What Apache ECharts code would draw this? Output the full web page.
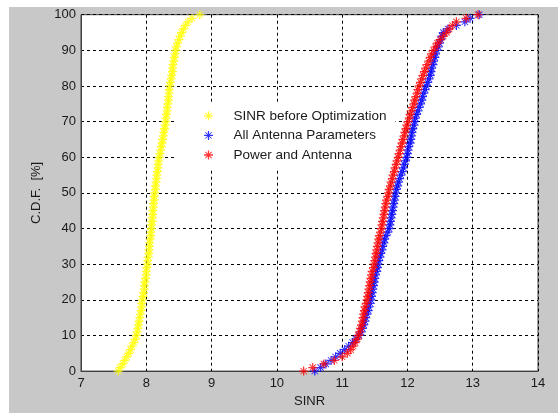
<!DOCTYPE html>
<html>
<head>
<meta charset="utf-8">
<script src="https://cdn.jsdelivr.net/npm/echarts@6/dist/echarts.min.js"></script>
<style>
  html, body { margin: 0; padding: 0; background: #ffffff; }
  #frame { position: absolute; left: 9px; top: 7px; width: 549px; height: 406px; background: #c8c8c8; }
  #chart { width: 549px; height: 406px; }
</style>
</head>
<body>
<div id="frame"><div id="chart"></div></div>
<script>
// CDF levels (%) shared by all three curves
const cdfPercent = [
  0, 1, 2, 3, 4, 5, 6, 7, 8, 9, 10, 11, 12, 13, 14, 15, 16, 17, 18, 19,
  20, 21, 22, 23, 24, 25, 26, 27, 28, 29, 30, 31, 32, 33, 34, 35, 36, 37, 38, 39,
  40, 41, 42, 43, 44, 45, 46, 47, 48, 49, 50, 51, 52, 53, 54, 55, 56, 57, 58, 59,
  60, 61, 62, 63, 64, 65, 66, 67, 68, 69, 70, 71, 72, 73, 74, 75, 76, 77, 78, 79,
  80, 81, 82, 83, 84, 85, 86, 87, 88, 89, 90, 91, 92, 93, 94, 95, 96, 97, 98, 99, 100
];

// SINR before optimization (sorted samples)
const sinrBefore = [
  7.57, 7.60, 7.64, 7.67, 7.70, 7.73, 7.76, 7.78, 7.81, 7.83,
  7.85, 7.86, 7.87, 7.88, 7.89, 7.90, 7.91, 7.92, 7.93, 7.93,
  7.94, 7.95, 7.96, 7.97, 7.97, 7.98, 7.99, 8.00, 8.00, 8.01,
  8.02, 8.02, 8.03, 8.04, 8.04, 8.05, 8.05, 8.06, 8.07, 8.07,
  8.08, 8.08, 8.09, 8.09, 8.10, 8.10, 8.11, 8.11, 8.12, 8.12,
  8.13, 8.14, 8.14, 8.15, 8.16, 8.16, 8.17, 8.18, 8.18, 8.19,
  8.20, 8.21, 8.22, 8.23, 8.24, 8.25, 8.26, 8.27, 8.28, 8.29,
  8.30, 8.30, 8.31, 8.32, 8.32, 8.33, 8.34, 8.34, 8.35, 8.35,
  8.36, 8.37, 8.38, 8.39, 8.40, 8.40, 8.41, 8.42, 8.43, 8.44,
  8.45, 8.46, 8.48, 8.50, 8.52, 8.54, 8.57, 8.60, 8.64, 8.70,
  8.82
];

// SINR after optimizing all antenna parameters
const sinrAllAntenna = [
  10.58, 10.67, 10.75, 10.83, 10.90, 10.97, 11.04, 11.10, 11.16, 11.21,
  11.26, 11.29, 11.31, 11.33, 11.35, 11.36, 11.38, 11.40, 11.41, 11.43,
  11.44, 11.45, 11.46, 11.47, 11.48, 11.49, 11.50, 11.51, 11.53, 11.54,
  11.55, 11.56, 11.58, 11.59, 11.61, 11.62, 11.64, 11.65, 11.67, 11.70,
  11.72, 11.73, 11.74, 11.75, 11.76, 11.77, 11.78, 11.79, 11.80, 11.81,
  11.82, 11.83, 11.85, 11.86, 11.88, 11.90, 11.92, 11.94, 11.95, 11.97,
  11.99, 12.00, 12.01, 12.02, 12.04, 12.05, 12.06, 12.07, 12.08, 12.10,
  12.11, 12.12, 12.14, 12.16, 12.18, 12.20, 12.22, 12.23, 12.25, 12.27,
  12.29, 12.31, 12.33, 12.35, 12.36, 12.37, 12.39, 12.40, 12.42, 12.43,
  12.45, 12.47, 12.49, 12.51, 12.53, 12.55, 12.62, 12.75, 12.88, 12.96,
  13.10
];

// SINR after optimizing power and antenna
const sinrPowerAntenna = [
  10.41, 10.55, 10.72, 10.88, 11.00, 11.08, 11.13, 11.17, 11.20, 11.23,
  11.25, 11.27, 11.28, 11.30, 11.31, 11.32, 11.33, 11.34, 11.35, 11.37,
  11.38, 11.39, 11.40, 11.41, 11.42, 11.43, 11.44, 11.45, 11.46, 11.48,
  11.49, 11.50, 11.51, 11.52, 11.53, 11.54, 11.55, 11.56, 11.57, 11.59,
  11.60, 11.61, 11.62, 11.63, 11.64, 11.65, 11.66, 11.67, 11.68, 11.70,
  11.71, 11.72, 11.74, 11.75, 11.77, 11.78, 11.80, 11.81, 11.83, 11.84,
  11.86, 11.87, 11.89, 11.90, 11.92, 11.93, 11.95, 11.96, 11.98, 11.99,
  12.01, 12.03, 12.04, 12.06, 12.08, 12.10, 12.11, 12.13, 12.15, 12.16,
  12.18, 12.20, 12.22, 12.24, 12.26, 12.28, 12.30, 12.33, 12.35, 12.37,
  12.40, 12.43, 12.46, 12.50, 12.55, 12.60, 12.64, 12.69, 12.75, 12.90,
  13.08
];

const seriesNames = ['SINR before Optimization', 'All Antenna Parameters', 'Power and Antenna'];
const seriesColors = ['#ffff00', '#0000ff', '#ff0000'];
const xTicks = [7, 8, 9, 10, 11, 12, 13, 14];
const yTicks = [0, 10, 20, 30, 40, 50, 60, 70, 80, 90, 100];

// asterisk marker: plus sign with two diagonal strokes
const STAR = 'path://M0,4.3L10,4.3L10,5.7L0,5.7Z' +
  'M4.3,0L5.7,0L5.7,10L4.3,10Z' +
  'M1.85,1.15L8.85,8.15L8.15,8.85L1.15,1.85Z' +
  'M1.15,8.15L8.15,1.15L8.85,1.85L1.85,8.85Z';

const FONT = "'Liberation Sans', Arial, sans-serif";
const TEXT_COLOR = '#1a1a1a';

function pairs(values) {
  return values.map((v, i) => [v, cdfPercent[i]]);
}

function scatter(idx, values) {
  return {
    name: seriesNames[idx],
    type: 'scatter',
    data: pairs(values),
    symbol: STAR,
    symbolSize: 9,
    symbolKeepAspect: true,
    itemStyle: { color: seriesColors[idx] },
    emphasis: { disabled: true },
    animation: false,
    z: 2 + idx
  };
}

const chart = echarts.init(document.getElementById('chart'), null, { renderer: 'canvas' });

chart.setOption({
  backgroundColor: 'transparent',
  animation: false,
  textStyle: { fontFamily: FONT },
  grid: {
    left: 72, right: 20, top: 7.7, bottom: 38.3,
    show: true,
    backgroundColor: '#ffffff',
    borderColor: '#404040',
    borderWidth: 1,
    containLabel: false
  },
  xAxis: {
    type: 'value',
    min: xTicks[0],
    max: xTicks[xTicks.length - 1],
    interval: 1,
    name: 'SINR',
    nameLocation: 'middle',
    nameGap: 22,
    nameTextStyle: { fontSize: 13, color: TEXT_COLOR, fontFamily: FONT },
    axisLine: { show: true, lineStyle: { color: '#404040' } },
    axisTick: { show: false },
    axisLabel: { fontSize: 13, color: TEXT_COLOR, margin: 6, fontFamily: FONT },
    splitLine: { show: true, lineStyle: { color: '#000000', type: [3, 3], width: 1 } }
  },
  yAxis: {
    type: 'value',
    min: yTicks[0],
    max: yTicks[yTicks.length - 1],
    interval: 10,
    name: 'C.D.F.  [%]',
    nameLocation: 'middle',
    nameGap: 36,
    nameTextStyle: { fontSize: 13, color: TEXT_COLOR, fontFamily: FONT },
    axisLine: { show: true, lineStyle: { color: '#404040' } },
    axisTick: { show: false },
    axisLabel: { fontSize: 13, color: TEXT_COLOR, margin: 5, fontFamily: FONT },
    splitLine: { show: true, lineStyle: { color: '#000000', type: [3, 3], width: 1 } }
  },
  legend: {
    data: seriesNames,
    orient: 'vertical',
    left: 167,
    top: 97,
    padding: [2, 9, 5, 28],
    backgroundColor: '#ffffff',
    borderWidth: 0,
    itemWidth: 40,
    itemHeight: 9,
    itemGap: 0,
    selectedMode: false,
    textStyle: { fontSize: 13.5, color: TEXT_COLOR, lineHeight: 19.6, fontFamily: FONT, padding: [0, 0, 0, 0] }
  },
  series: [
    scatter(0, sinrBefore),
    scatter(1, sinrAllAntenna),
    scatter(2, sinrPowerAntenna)
  ]
});
</script>
</body>
</html>
